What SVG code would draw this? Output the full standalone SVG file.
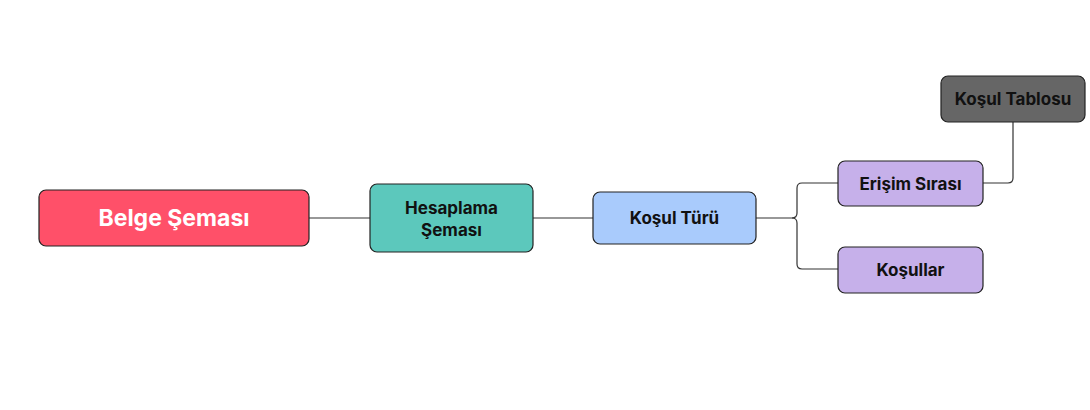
<svg xmlns="http://www.w3.org/2000/svg" width="1090" height="410" viewBox="0 0 1090 410">
<style>
.n{stroke:#222;stroke-width:1.2}
.t{font-family:Inter,"Liberation Sans",sans-serif;font-weight:700;font-size:17px;fill:#111;text-anchor:middle;dominant-baseline:central}
.c{fill:none;stroke:#333;stroke-width:1.2}
</style>
<rect width="1090" height="410" fill="#fff"/>
<g id="connectors">
<path class="c" d="M309 218H370"/>
<path class="c" d="M533 218H593"/>
<path class="c" d="M756 218H792Q797 218 797 213V188Q797 183 802 183H838"/>
<path class="c" d="M792 218Q797 218 797 223V264Q797 269 802 269H838"/>
<path class="c" d="M983 183H1008Q1013 183 1013 178V122"/>
</g>
<g id="belge"><rect class="n" x="39" y="190" width="270" height="56" rx="7" fill="#FF5069"/><text class="t" x="174" y="218" style="font-size:23px;fill:#fff">Belge Şeması</text></g>
<g id="hesaplama"><rect class="n" x="370" y="184" width="163" height="68" rx="7" fill="#5CC8BC"/><text class="t" x="451.5" y="208">Hesaplama</text><text class="t" x="451.5" y="230">Şeması</text></g>
<g id="kosul-turu"><rect class="n" x="593" y="192" width="163" height="52" rx="7" fill="#A9CBFC"/><text class="t" x="674.5" y="218">Koşul Türü</text></g>
<g id="erisim"><rect class="n" x="838" y="161" width="145" height="45" rx="7" fill="#C6B0EA"/><text class="t" x="910.5" y="183.5">Erişim Sırası</text></g>
<g id="kosullar"><rect class="n" x="838" y="247" width="145" height="46" rx="7" fill="#C6B0EA"/><text class="t" x="910.5" y="270">Koşullar</text></g>
<g id="kosul-tablosu"><rect class="n" x="941" y="76" width="144" height="46" rx="7" fill="#666666"/><text class="t" x="1013" y="99">Koşul Tablosu</text></g>
</svg>
